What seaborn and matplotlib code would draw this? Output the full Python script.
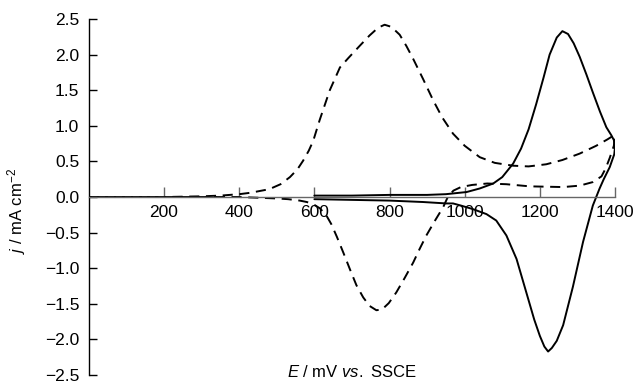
import matplotlib
matplotlib.use("Agg")
import matplotlib.pyplot as plt
import seaborn as sns
import pandas as pd

# dashed voltammogram (forward then reverse sweep), E in mV, j in mA cm-2
dashed_E = [0, 100, 200, 300, 350, 400, 430, 480, 510, 535, 555, 570, 585, 597, 614, 641, 668, 690, 720,
            747, 770, 787, 805, 827, 845, 863, 890, 916, 940, 969, 1000, 1040, 1080, 1129, 1170, 1217,
            1260, 1306, 1350, 1380, 1395, 1400,
            1397, 1386, 1375, 1364, 1341, 1306, 1262, 1173, 1111, 1060, 1020, 990, 970, 955, 943, 920, 898,
            880, 863, 840, 818, 798, 780, 765, 747, 730, 712, 695, 677, 660, 645, 632, 615, 597, 580, 561,
            530, 500, 450, 400, 300, 200, 100, 0]
dashed_j = [0.0, 0.0, 0.0, 0.01, 0.02, 0.04, 0.06, 0.11, 0.18, 0.28, 0.39, 0.51, 0.65, 0.79, 1.08, 1.50, 1.82, 1.95, 2.12,
            2.27, 2.38, 2.42, 2.39, 2.28, 2.12, 1.94, 1.65, 1.36, 1.12, 0.89, 0.72, 0.56, 0.48, 0.44, 0.43, 0.46,
            0.52, 0.61, 0.72, 0.81, 0.86, 0.87,
            0.72, 0.55, 0.40, 0.29, 0.21, 0.16, 0.14, 0.15, 0.18, 0.19, 0.17, 0.14, 0.09, 0.0, -0.14, -0.34, -0.54,
            -0.73, -0.92, -1.14, -1.34, -1.49, -1.58, -1.59, -1.53, -1.41, -1.24, -1.02, -0.78, -0.56, -0.38, -0.26, -0.16, -0.10, -0.07, -0.05,
            -0.03, -0.02, -0.01, 0.0, 0.0, 0.0, 0.0, 0.0]

# solid voltammogram
solid_E = [600, 700, 800, 900, 950, 1005, 1040, 1076, 1100, 1129, 1150, 1170, 1190, 1210, 1226, 1245,
           1260, 1275, 1290, 1306, 1324, 1341, 1360, 1377, 1390, 1397, 1400,
           1398, 1386, 1370, 1359, 1341, 1315, 1288, 1262, 1245, 1232, 1222, 1212, 1200, 1185, 1164, 1138,
           1111, 1084, 1058, 1022, 990, 969, 951, 889, 800, 700, 600]
solid_j = [0.02, 0.02, 0.03, 0.03, 0.04, 0.07, 0.12, 0.19, 0.28, 0.47, 0.68, 0.95, 1.30, 1.68, 2.00, 2.24,
           2.33, 2.29, 2.16, 1.97, 1.72, 1.47, 1.20, 0.98, 0.87, 0.80, 0.70,
           0.60, 0.42, 0.25, 0.12, -0.12, -0.63, -1.26, -1.80, -2.02, -2.12, -2.17, -2.10, -1.95, -1.72, -1.34, -0.87,
           -0.54, -0.33, -0.24, -0.17, -0.12, -0.09, -0.09, -0.07, -0.05, -0.04, -0.03]

x_ticks = [200, 400, 600, 800, 1000, 1200, 1400]
y_ticks = [-2.5, -2.0, -1.5, -1.0, -0.5, 0.0, 0.5, 1.0, 1.5, 2.0, 2.5]

df = pd.concat([
    pd.DataFrame({'E': dashed_E, 'j': dashed_j, 'curve': 'dashed'}),
    pd.DataFrame({'E': solid_E, 'j': solid_j, 'curve': 'solid'}),
], ignore_index=True)

sns.set_style("white")
plt.rcParams['font.family'] = ['Liberation Sans', 'DejaVu Sans']
plt.rcParams['mathtext.fontset'] = 'custom'
plt.rcParams['mathtext.rm'] = 'Liberation Sans'
plt.rcParams['mathtext.it'] = 'Liberation Sans:italic'
plt.rcParams['text.color'] = 'black'
plt.rcParams['axes.labelcolor'] = 'black'

fig = plt.figure(figsize=(6.35, 3.84), dpi=100)
ax = fig.add_axes([0.140, 0.0234, 0.8285, 0.927])

sns.lineplot(data=df, x='E', y='j', style='curve', dashes={'dashed': (5.2, 3.4), 'solid': ''},
             color='black', sort=False, estimator=None, legend=False, linewidth=1.4, ax=ax)

ax.set_xlim(0, 1400)
ax.set_ylim(-2.5, 2.5)
ax.set_xticks(x_ticks)
ax.set_yticks(y_ticks)
ax.set_yticklabels([f"{v:.1f}".replace('-', '\u2212') for v in y_ticks])

for s in ['top', 'right']:
    ax.spines[s].set_visible(False)
ax.spines['bottom'].set_position(('data', 0))
ax.spines['bottom'].set_color('#666666')
ax.spines['left'].set_color('black')
ax.spines['bottom'].set_linewidth(1.0)
ax.spines['left'].set_linewidth(1.0)

ax.tick_params(axis='x', bottom=True, direction='in', length=7, width=1, color='#666666',
               labelcolor='black', labelsize=12.5, pad=6)
ax.tick_params(axis='y', left=True, direction='in', length=6, width=1, color='black',
               labelcolor='black', labelsize=12.5, pad=7)

ax.set_xlabel('$E$ / mV $vs.$ SSCE', fontsize=12)
ax.xaxis.set_label_coords(0.5, 0.03)
ax.set_ylabel('$j$ / mA cm$^{\u22122}$', fontsize=12)
ax.yaxis.set_label_coords(-0.115, 0.46)

fig.savefig('out.png', dpi=100)
